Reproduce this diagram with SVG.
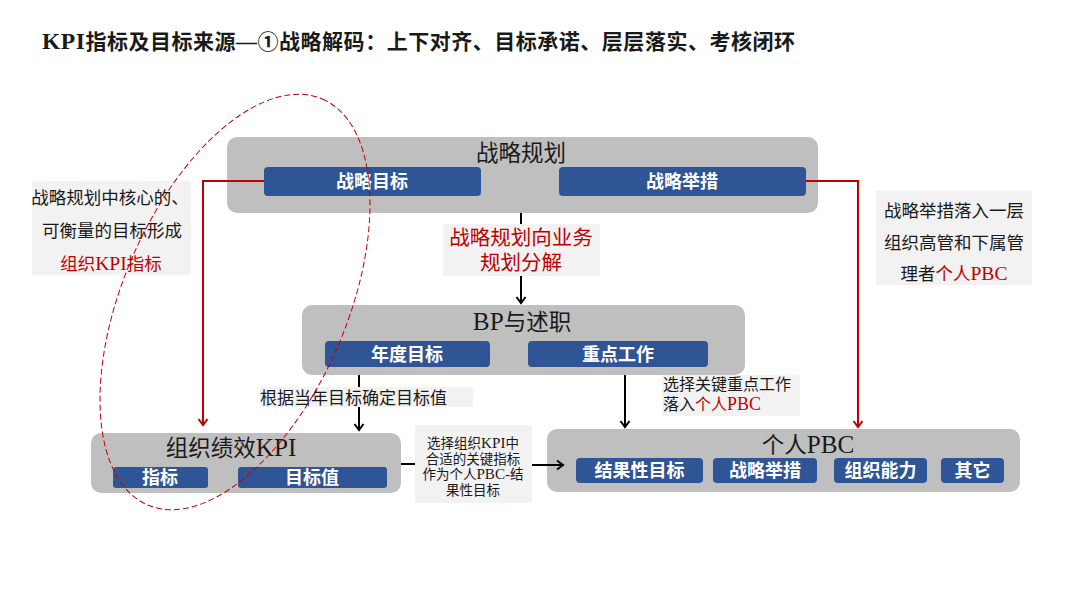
<svg xmlns="http://www.w3.org/2000/svg" width="1080" height="608" viewBox="0 0 1080 608">
<defs>
<marker id="ab" markerWidth="12" markerHeight="12" refX="9" refY="6" orient="auto" markerUnits="userSpaceOnUse">
<path d="M3,1.5 L9,6 L3,10.5" fill="none" stroke="#000" stroke-width="2"/>
</marker>
<marker id="ar" markerWidth="12" markerHeight="12" refX="9" refY="6" orient="auto" markerUnits="userSpaceOnUse">
<path d="M3,1.5 L9,6 L3,10.5" fill="none" stroke="#c00000" stroke-width="2"/>
</marker>
</defs>
<style>
.node{fill:#bfbfbf}
.blue{fill:#2f5597}
.lbl{fill:#f2f2f2}
.bt{fill:#fff;font-family:"Noto Sans CJK SC",sans-serif;font-size:18px;font-weight:bold;text-anchor:middle}
.tt{fill:#1a1a1a;font-family:"Liberation Serif","Noto Sans CJK SC",serif;font-size:22.5px;text-anchor:middle}
.tx{fill:#1a1a1a;font-family:"Liberation Serif","Noto Sans CJK SC",serif}
.red{fill:#c00000}
.lat{font-size:1.12em}
.lr{fill:none;stroke:#c00000;stroke-width:2}
.lb{fill:none;stroke:#000;stroke-width:2}
</style>
<rect width="1080" height="608" fill="#fff"/>
<text x="42" y="49" class="tx" font-size="21" font-weight="bold" textLength="753" lengthAdjust="spacing"><tspan class="lat">KPI</tspan>指标及目标来源—①战略解码：上下对齐、目标承诺、层层落实、考核闭环</text>

<g id="node-strategy">
<rect class="node" x="227" y="137" width="591" height="76" rx="10"/>
<text x="521" y="161" class="tt">战略规划</text>
<rect class="blue" x="264" y="167" width="217" height="29" rx="4"/>
<text x="372" y="188" class="bt">战略目标</text>
<rect class="blue" x="559" y="167" width="247" height="29" rx="4"/>
<text x="682" y="188" class="bt">战略举措</text>
</g>

<g id="node-bp">
<rect class="node" x="302" y="305" width="443" height="70" rx="10"/>
<text x="522" y="330" class="tt"><tspan class="lat">BP</tspan>与述职</text>
<rect class="blue" x="325" y="341" width="165" height="26" rx="4"/>
<text x="407" y="360.5" class="bt">年度目标</text>
<rect class="blue" x="528" y="341" width="180" height="26" rx="4"/>
<text x="618" y="360.5" class="bt">重点工作</text>
</g>

<g id="node-kpi">
<rect class="node" x="91" y="433" width="310" height="60" rx="10"/>
<text x="231" y="456" class="tt">组织绩效<tspan class="lat">KPI</tspan></text>
<rect class="blue" x="113" y="467" width="95" height="21" rx="3"/>
<text x="160" y="484" class="bt">指标</text>
<rect class="blue" x="238" y="467" width="149" height="21" rx="3"/>
<text x="312" y="484" class="bt">目标值</text>
</g>

<g id="node-pbc">
<rect class="node" x="547" y="429" width="473" height="63" rx="10"/>
<text x="808" y="453" class="tt">个人<tspan class="lat">PBC</tspan></text>
<rect class="blue" x="576" y="458" width="127" height="25" rx="4"/>
<text x="639.5" y="477" class="bt">结果性目标</text>
<rect class="blue" x="713" y="458" width="104" height="25" rx="4"/>
<text x="765" y="477" class="bt">战略举措</text>
<rect class="blue" x="834" y="458" width="93" height="25" rx="4"/>
<text x="880.5" y="477" class="bt">组织能力</text>
<rect class="blue" x="941" y="458" width="63" height="25" rx="4"/>
<text x="972.5" y="477" class="bt">其它</text>
</g>

<g id="connectors">
<polyline class="lr" points="264,181 203,181 203,425" marker-end="url(#ar)"/>
<polyline class="lr" points="806,181 858,181 858,427" marker-end="url(#ar)"/>
<line class="lb" x1="521" y1="213" x2="521" y2="303" marker-end="url(#ab)"/>
<line class="lb" x1="359" y1="375" x2="359" y2="430" marker-end="url(#ab)"/>
<line class="lb" x1="625" y1="375" x2="625" y2="427" marker-end="url(#ab)"/>
<line class="lb" x1="401" y1="464" x2="416" y2="464"/>
<line class="lb" x1="531" y1="465" x2="563" y2="465" marker-end="url(#ab)"/>
</g>

<g id="label-left">
<rect class="lbl" x="32" y="181" width="159" height="94"/>
<text class="tx" font-size="17.5" text-anchor="middle"><tspan x="110" y="203.5">战略规划中核心的、</tspan><tspan x="112" y="236.5">可衡量的目标形成</tspan><tspan x="111" y="269.5" class="red">组织<tspan class="lat">KPI</tspan>指标</tspan></text>
</g>

<g id="label-right">
<rect class="lbl" x="876" y="191" width="156" height="94"/>
<text class="tx" font-size="17.5" text-anchor="middle"><tspan x="954" y="216.5">战略举措落入一层</tspan><tspan x="954" y="248.5">组织高管和下属管</tspan><tspan x="954" y="279.5">理者<tspan class="red">个人<tspan class="lat">PBC</tspan></tspan></tspan></text>
</g>

<g id="label-mid">
<rect class="lbl" x="443" y="224" width="157" height="52"/>
<text class="tx red" font-size="20.5" text-anchor="middle"><tspan x="521" y="245">战略规划向业务</tspan><tspan x="521" y="270">规划分解</tspan></text>
</g>

<g id="label-target">
<rect class="lbl" x="260" y="387" width="213" height="20"/>
<text x="260" y="403.5" class="tx" font-size="17">根据当年目标确定目标值</text>
</g>

<g id="label-work">
<rect class="lbl" x="662" y="375" width="138" height="41"/>
<text class="tx" font-size="16"><tspan x="663" y="390">选择关键重点工作</tspan><tspan x="663" y="410">落入<tspan class="red">个人<tspan class="lat">PBC</tspan></tspan></tspan></text>
</g>

<g id="label-select">
<rect class="lbl" x="415" y="425" width="117" height="78"/>
<text class="tx" font-size="13.5" text-anchor="middle"><tspan x="473" y="448">选择组织<tspan class="lat">KPI</tspan>中</tspan><tspan x="473" y="463.5">合适的关键指标</tspan><tspan x="473" y="479">作为个人<tspan class="lat">PBC-</tspan>结</tspan><tspan x="473" y="494.5">果性目标</tspan></text>
</g>

<ellipse id="highlight" cx="235" cy="302" rx="221" ry="112" transform="rotate(-66.7 235 302)" fill="none" stroke="#c00000" stroke-width="1" stroke-dasharray="6 3"/>
</svg>
